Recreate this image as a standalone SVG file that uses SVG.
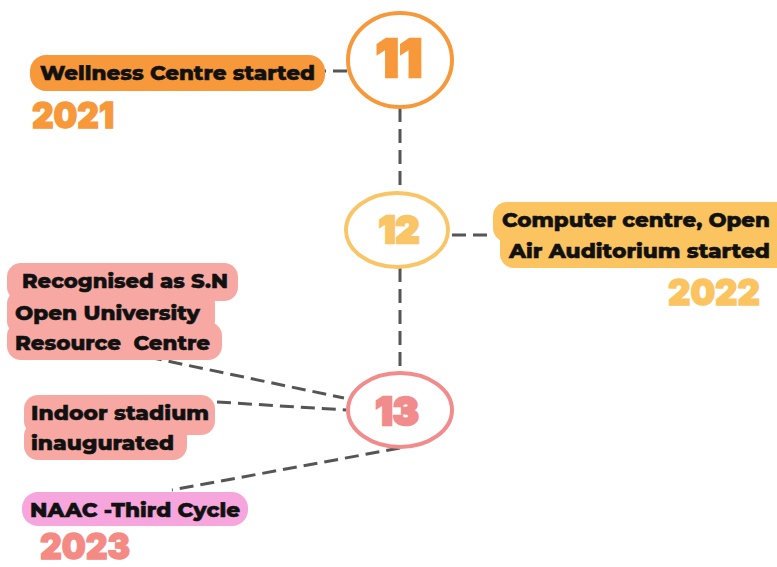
<svg xmlns="http://www.w3.org/2000/svg" width="777" height="567" viewBox="0 0 777 567">
<style>
.lbl{font-family:"Montserrat","Inter","Liberation Sans",sans-serif;font-weight:800;font-size:20px;fill:#111;stroke:#111;stroke-width:0.5}
.yr{font-family:"Inter","Liberation Sans",sans-serif;font-weight:900;font-size:36px;stroke-width:1.5}
.num{font-family:"Inter","Liberation Sans",sans-serif;font-weight:900;text-anchor:middle;stroke-width:2.5}
.conn{stroke:#555;stroke-width:3;fill:none;stroke-dasharray:14 7}
</style>
<rect width="777" height="567" fill="#fff"/>
<g id="connectors">
<line class="conn" x1="312" y1="71" x2="347" y2="71"/>
<line class="conn" x1="400" y1="108" x2="400" y2="192"/>
<line class="conn" x1="452" y1="235" x2="494" y2="235"/>
<line class="conn" x1="400" y1="268" x2="400" y2="372"/>
<line class="conn" x1="148" y1="357" x2="344" y2="398"/>
<line class="conn" x1="217" y1="402" x2="346" y2="410"/>
<line class="conn" x1="400" y1="448" x2="172" y2="490"/>
</g>
<g id="node11">
<ellipse cx="400" cy="60" rx="52" ry="47" fill="#fff" stroke="#f7993a" stroke-width="4"/>
<text class="num" x="399" y="77" font-size="52" fill="#f7993a" stroke="#f7993a">11</text>
</g>
<g id="wellness">
<rect x="30" y="55" width="295" height="36" rx="16" fill="#f7993a"/>
<text class="lbl" x="40" y="80" textLength="275" lengthAdjust="spacingAndGlyphs">Wellness Centre started</text>
<text class="yr" x="32" y="128" fill="#f7993a" stroke="#f7993a" textLength="82" lengthAdjust="spacingAndGlyphs">2021</text>
</g>
<g id="node12">
<ellipse cx="397" cy="230" rx="51" ry="37" fill="#fff" stroke="#f9c566" stroke-width="4"/>
<text class="num" x="399" y="243" font-size="37" fill="#f9c566" stroke="#f9c566">12</text>
</g>
<g id="computer">
<rect x="493" y="202" width="300" height="40" rx="14" fill="#fbc461"/>
<rect x="500" y="228" width="293" height="40" rx="14" fill="#fbc461"/>
<text class="lbl" x="502" y="227" textLength="268" lengthAdjust="spacingAndGlyphs">Computer centre, Open</text>
<text class="lbl" x="509" y="258" textLength="261" lengthAdjust="spacingAndGlyphs">Air Auditorium started</text>
<text class="yr" x="668" y="305" fill="#fbc461" stroke="#fbc461" textLength="92" lengthAdjust="spacingAndGlyphs">2022</text>
</g>
<g id="node13">
<ellipse cx="400" cy="410" rx="52" ry="37" fill="#fff" stroke="#f28b8b" stroke-width="4"/>
<text class="num" x="397" y="425" font-size="39" fill="#f28b8b" stroke="#f28b8b">13</text>
</g>
<g id="recognised">
<rect x="7" y="263" width="231" height="38" rx="14" fill="#f8a8a3"/>
<rect x="7" y="290" width="208" height="45" rx="14" fill="#f8a8a3"/>
<rect x="7" y="322" width="215" height="38" rx="14" fill="#f8a8a3"/>
<text class="lbl" x="22" y="288" textLength="206" lengthAdjust="spacingAndGlyphs">Recognised as S.N</text>
<text class="lbl" x="15" y="320" textLength="185" lengthAdjust="spacingAndGlyphs">Open University</text>
<text class="lbl" x="15" y="350" textLength="195" lengthAdjust="spacingAndGlyphs" xml:space="preserve">Resource  Centre</text>
</g>
<g id="indoor">
<rect x="24" y="395" width="191" height="40" rx="14" fill="#f8a8a3"/>
<rect x="24" y="422" width="163" height="38" rx="14" fill="#f8a8a3"/>
<text class="lbl" x="31" y="420" textLength="178" lengthAdjust="spacingAndGlyphs">Indoor stadium</text>
<text class="lbl" x="31" y="450" textLength="143" lengthAdjust="spacingAndGlyphs">inaugurated</text>
</g>
<g id="naac">
<rect x="22" y="492" width="226" height="34" rx="16" fill="#f7a6dd"/>
<text class="lbl" x="30" y="517" textLength="210" lengthAdjust="spacingAndGlyphs">NAAC -Third Cycle</text>
<text class="yr" x="40" y="559" font-size="32" fill="#f58a85" stroke="#f58a85" textLength="90" lengthAdjust="spacingAndGlyphs">2023</text>
</g>
</svg>
